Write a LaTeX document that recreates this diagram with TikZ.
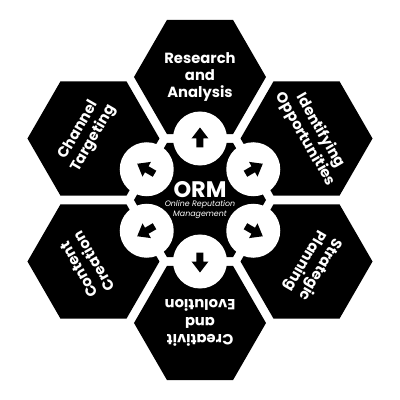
\documentclass[tikz,border=0pt]{standalone}
\usepackage{fontspec}
\setmainfont{Poppins}
\usetikzlibrary{shapes.geometric}
\begin{document}
\begin{tikzpicture}[x=0.25mm,y=0.25mm,
 hexa/.style={regular polygon, regular polygon sides=6, minimum size=33mm, inner sep=0pt, outer sep=0pt, fill=black},
 lbl/.style={text=white, align=center, inner sep=0pt, font=\fontsize{10.5}{12.4}\selectfont\bfseries},
 hole/.style={circle, fill=white, minimum size=13.5mm, inner sep=0pt},
 orm/.style={text=white, font=\fontsize{16}{16}\selectfont\bfseries},
 subt/.style={text=white, font=\fontsize{5.6}{6.5}\selectfont\itshape, align=center}]
\useasboundingbox (-200,-200) rectangle (200,200);
\node[hexa] (ctr) at (0,0) {};
\node[hexa] (res) at (90:123) {};
\node[hexa] (idn) at (30:123) {};
\node[hexa] (str) at (-30:123) {};
\node[hexa] (cre) at (-90:123) {};
\node[hexa] (con) at (210:123) {};
\node[hexa] (cha) at (150:123) {};
\node[lbl] (resT) at (res.center) {Research\\and\\Analysis};
\node[lbl, rotate=-60] (idnT) at ([shift={(30:7)}]idn.center) {Identifying\\Opportunities};
\node[lbl, rotate=-120] (strT) at ([shift={(-30:7)}]str.center) {Strategic\\Planning};
\node[lbl, rotate=180] (creT) at (cre.center) {Creativit\\and\\Evolution};
\node[lbl, rotate=120] (conT) at ([shift={(210:8)}]con.center) {Content\\Creation};
\node[lbl, rotate=60] (chaT) at ([shift={(150:8)}]cha.center) {Channel\\Targeting};
\foreach \a/\nm in {90/c1,30/c2,-30/c3,-90/c4,-150/c5,150/c6}{
 \node[hole] (\nm) at (\a:61.5) {};
 \fill[shift={(\nm.center)}, rotate=\a] (-9,-3.5) -- (0,-3.5) -- (0,-8.5) -- (11,0) -- (0,8.5) -- (0,3.5) -- (-9,3.5) -- cycle;
}
\node[orm] (ormt) at (0,10) {ORM};
\node[subt] (sub) at (0,-9.5) {Online Reputation\\Management};
\end{tikzpicture}
\end{document}
